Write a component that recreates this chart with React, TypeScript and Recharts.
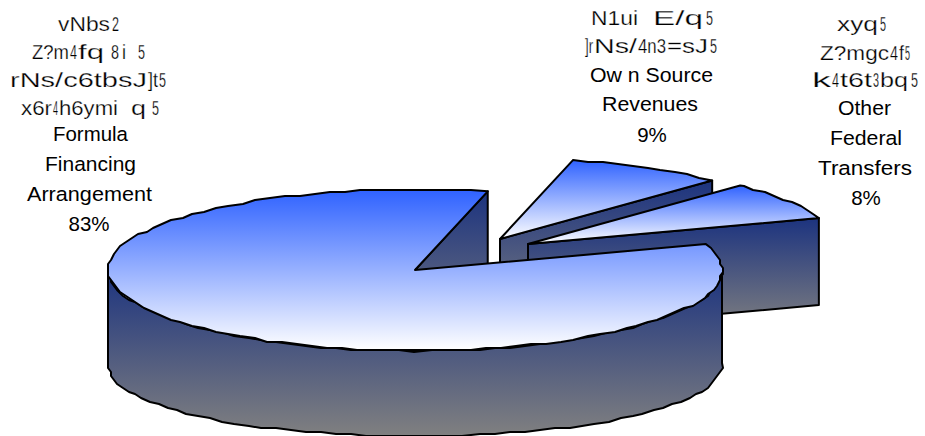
import { Pie, PieChart } from "recharts";

const CATEGORIES = ["Own Source Revenues", "Other Federal Transfers", "Formula Financing Arrangement"];
const SHARES = [9, 8, 83];

type Run = [string, number, number]; // text, left x, drawn width

// The caption lines above each percentage. The source draws them in a broken
// font with squeezed digits, so every run gets its own width.
const OWN_LINES: Run[][] = [
  [["N1ui", 591, 47], ["E/q", 653, 50], ["5", 706, 7]],
  [["]r", 585, 8], ["Ns/", 594, 43], ["4n3", 638, 28], ["=sJ", 667, 41], ["5", 710, 7]],
  [["Ow n Source", 590, 123]],
  [["Revenues", 602, 96]],
];
const OTHER_LINES: Run[][] = [
  [["xyq", 837, 41], ["5", 880, 6]],
  [["Z?mgc", 820, 69], ["4", 890, 8], ["f", 899, 5], ["5", 905, 5]],
  [["k", 812, 19], ["4", 832, 7], ["t6t", 840, 32], ["3", 873, 6], ["bq", 880, 28], ["5", 911, 7]],
  [["Other", 838, 53]],
  [["Federal", 830, 72]],
  [["Transfers", 818, 94]],
];
const FORMULA_LINES: Run[][] = [
  [["vNbs", 58, 52], ["2", 112, 7]],
  [["Z?m", 32, 37], ["4", 70, 7], ["fq", 78, 26], ["8", 111, 8], ["i", 122, 4], ["5", 138, 7]],
  [["rNs/c6tbsJ", 10, 137], ["]t", 148, 10], ["5", 159, 7]],
  [["x6r", 21, 31], ["4", 53, 5], ["h6ymi", 59, 59], ["q", 131, 15], ["5", 152, 7]],
  [["Formula", 53, 75]],
  [["Financing", 45, 91]],
  [["Arrangement", 27, 125]],
];
const CAPTION_LINES = [OWN_LINES, OTHER_LINES, FORMULA_LINES];
const GARBLED_COUNT = [2, 3, 4];
const CAPTION_BASELINES = [
  [25, 53, 82, 111, 142],
  [31, 60, 87, 115, 145, 175, 205],
  [31, 59, 87, 115, 141, 171, 201, 231],
];
const PERCENT_X = [652, 866, 89];

const EXPLODE = [
  { dx: 85, dy: -31 },
  { dx: 113, dy: -26 },
  { dx: 0, dy: 0 },
];

const WIDTH = 925;
const HEIGHT = 436;
const SQUASH = 81 / 307;
const DEPTH = 87;

const rows = CATEGORIES.map((name, i) => ({ name, value: SHARES[i] }));

const rad = (deg: number) => (deg * Math.PI) / 180;
// the source is a 3D view, its radial edges lean a little away from the axis
const lean = (deg: number) => deg + 5 * Math.cos(rad(deg));
// the bottom rim is a bit rounder than the top one, it hangs lower at the sides
const wallDrop = (deg: number) => 85 + 8 * Math.cos(rad(deg)) ** 2;
// coarse snapping gives the stepped rim of the original metafile
const snapX = (v: number) => Math.round(v / 3) * 3;
const snapY = (v: number) => Math.round(v / 2) * 2;

function Slice3D(props: any) {
  const { cx, cy, outerRadius, startAngle, endAngle, name } = props;
  const idx = CATEGORIES.indexOf(name);
  const ox = cx + EXPLODE[idx].dx;
  const oy = cy + EXPLODE[idx].dy;
  const lo = lean(Math.min(startAngle, endAngle));
  const hi = lean(Math.max(startAngle, endAngle));

  const at = (deg: number, drop = 0): [number, number] => [
    ox + outerRadius * Math.cos(rad(deg)),
    oy - outerRadius * SQUASH * Math.sin(rad(deg)) + drop,
  ];
  const rim = (from: number, to: number, lower = false) => {
    const pts: string[] = [];
    for (let a = from + 3; a < to; a += 3) {
      const [x, y] = at(a, lower ? wallDrop(a) : 0);
      pts.push(`${snapX(x)},${snapY(y)}`);
    }
    pts.push(at(to, lower ? wallDrop(to) : 0).join(","));
    return pts;
  };

  const top = ["M", `${ox},${oy}`, "L", at(lo).join(","), ...rim(lo, hi), "Z"].join(" ");

  const [fx, fy] = at(lo);
  const face = `M ${ox},${oy} L ${fx},${fy} L ${fx},${fy + DEPTH} L ${ox},${oy + DEPTH} Z`;

  // only the part of the rim that faces the viewer gets an outer wall
  const wallFrom = Math.max(lo, -180);
  const wallTo = Math.min(hi, 0);
  let wall = "";
  if (wallTo > wallFrom) {
    const upper = rim(wallFrom, wallTo);
    const lower = rim(wallFrom, wallTo, true).reverse();
    wall = `M ${at(wallFrom).join(",")} L ${upper.join(" ")} L ${lower.join(" ")} L ${at(wallFrom, wallDrop(wallFrom)).join(",")} Z`;
  }

  return (
    <g>
      <path d={face} fill="url(#wallFill)" stroke="#000" strokeWidth={2} strokeLinejoin="round" />
      {wall && <path d={wall} fill="url(#wallFill)" stroke="#000" strokeWidth={2} strokeLinejoin="round" />}
      <path d={top} fill="url(#topFill)" stroke="#000" strokeWidth={2} strokeLinejoin="round" />
    </g>
  );
}

function Caption(props: any) {
  const { index, value } = props;
  const lines = CAPTION_LINES[index];
  const baselines = CAPTION_BASELINES[index];
  return (
    <g fontFamily="'Liberation Sans', Arial, sans-serif" fontSize={20.5} fill="#000">
      {lines.map((runs, i) => (
        <text
          key={i}
          y={baselines[i]}
          // a hairline of white keeps the stretched glyphs as thin as in the source
          stroke={i < GARBLED_COUNT[index] ? "#fff" : "none"}
          strokeWidth={0.25}
        >
          {runs.map(([text, x, w], j) => (
            <tspan key={j} x={x} textLength={w} lengthAdjust="spacingAndGlyphs">
              {text}
            </tspan>
          ))}
        </text>
      ))}
      <text x={PERCENT_X[index]} y={baselines[lines.length]} textAnchor="middle" stroke="none">
        {`${value}%`}
      </text>
    </g>
  );
}

export default function App() {
  return (
    <div style={{ position: "absolute", left: 0, top: 0, width: WIDTH, height: HEIGHT, background: "#fff" }}>
      <PieChart width={WIDTH} height={HEIGHT} margin={{ top: 0, right: 0, bottom: 0, left: 0 }}>
        <defs>
          <linearGradient id="topFill" x1="0" y1="0" x2="0" y2="1">
            <stop offset="0" stopColor="#2f62ff" />
            <stop offset="1" stopColor="#ffffff" />
          </linearGradient>
          <linearGradient id="wallFill" x1="0" y1="0" x2="0" y2="1">
            <stop offset="0" stopColor="#1c337f" />
            <stop offset="1" stopColor="#808080" />
          </linearGradient>
        </defs>
        <Pie
          data={rows}
          dataKey="value"
          nameKey="name"
          cx={415}
          cy={270}
          innerRadius={0}
          outerRadius={307}
          startAngle={75}
          endAngle={-285}
          paddingAngle={0}
          shape={Slice3D}
          label={Caption}
          labelLine={false}
          isAnimationActive={false}
        />
      </PieChart>
    </div>
  );
}
